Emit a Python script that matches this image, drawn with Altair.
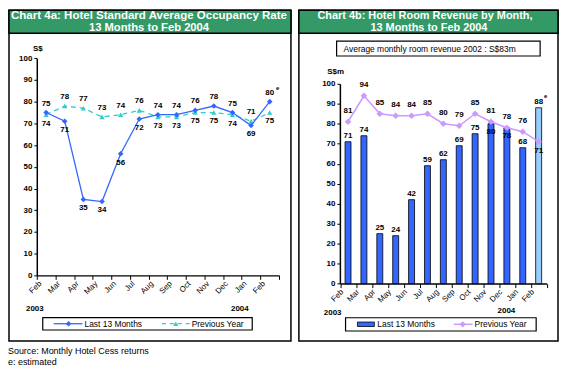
import altair as alt
import pandas as pd

# ---------------- data ----------------
month_keys = ["Feb 2003", "Mar 2003", "Apr 2003", "May 2003", "Jun 2003", "Jul 2003",
              "Aug 2003", "Sep 2003", "Oct 2003", "Nov 2003", "Dec 2003", "Jan 2004", "Feb 2004"]
occ_last13 = [75, 71, 35, 34, 56, 72, 74, 74, 76, 78, 75, 69, 80]
occ_prev = [74, 78, 77, 73, 74, 76, 73, 73, 75, 75, 74, 71, 75]
rev_last13 = [71, 74, 25, 24, 42, 59, 62, 69, 75, 80, 78, 68, 88]
rev_prev = [81, 94, 85, 84, 84, 85, 80, 79, 85, 81, 78, 76, 71]
estimated = [False] * 12 + [True]
y_ticks = [0, 10, 20, 30, 40, 50, 60, 70, 80, 90, 100]
series_names = ["Last 13 Months", "Previous Year"]

title_4a = ["Chart 4a: Hotel Standard Average Occupancy Rate", "13 Months to Feb 2004"]
title_4b = ["Chart 4b: Hotel Room Revenue by Month,", "13 Months to Feb 2004"]
subtitle_4b = "Average monthly room revenue 2002 : S$83m"
notes = ["Source: Monthly Hotel Cess returns", "e: estimated"]

# ---------------- styles ----------------
BLUE = "#3366ff"
CYAN = "#33cccc"
LAV = "#cc99ff"
PALE = "#99ccff"
GREEN = "#339966"
FONT = "Liberation Sans"

rows = []
for i, m in enumerate(month_keys):
    rows.append({"month": m, "series": series_names[0], "value": occ_last13[i],
                 "other": occ_prev[i], "est": estimated[i]})
    rows.append({"month": m, "series": series_names[1], "value": occ_prev[i],
                 "other": occ_last13[i], "est": False})
df_left = pd.DataFrame(rows)

df_right = pd.DataFrame({"month": month_keys, "last13": rev_last13, "prev": rev_prev,
                         "est": estimated})
one = pd.DataFrame({"k": [0]})


def axis_y(offset):
    return alt.Axis(orient="left", offset=offset, values=y_ticks, tickSize=3, labelPadding=2,
                    labelFontSize=8, labelFontWeight="bold", labelFont=FONT, labelColor="black",
                    grid=False, domainColor="black", domainWidth=1.5, tickColor="black",
                    title=None)


def axis_x(offset):
    return alt.Axis(orient="bottom", offset=offset, tickBand="extent", labelAngle=-45,
                    labelAlign="right", labelBaseline="middle", labelOffset=-6, labelPadding=3,
                    tickSize=4, labelExpr="slice(datum.label, 0, 3)", labelFontSize=8,
                    labelFont=FONT, labelColor="black", grid=False, domainColor="black",
                    domainWidth=1.5, tickColor="black", title=None, labelOverlap=False)


# ---------------- left panel ----------------
scale_xL = alt.Scale(type="band", domain=month_keys, range=[29, 273], paddingInner=0, paddingOuter=0)
scale_yL = alt.Scale(domain=[0, 100], range=[268, 49.3], nice=False)
xL = alt.X("month:N", scale=scale_xL, axis=axis_x(-96), bandPosition=0.5)
yL = alt.Y("value:Q", scale=scale_yL, axis=axis_y(-29))

baseL = alt.Chart(df_left).encode(x=xL, y=yL)
is_last = "datum.series == 'Last 13 Months'"
is_prev = "datum.series == 'Previous Year'"
left = alt.layer(
    baseL.transform_filter(is_prev).mark_line(color=CYAN, strokeWidth=1.3, strokeDash=[5, 4]),
    baseL.transform_filter(is_prev).mark_point(shape="triangle-up", filled=True, size=28,
                                               color=CYAN, opacity=1),
    baseL.transform_filter(is_last).mark_line(color=BLUE, strokeWidth=1.3),
    baseL.transform_filter(is_last).mark_point(shape="diamond", filled=True, size=32,
                                               color=BLUE, opacity=1),
    baseL.transform_filter("datum.value > datum.other").mark_text(
        dy=-9, fontSize=8, fontWeight="bold", font=FONT, color="black").encode(text="value:Q"),
    baseL.transform_filter("datum.value < datum.other").mark_text(
        dy=9, fontSize=8, fontWeight="bold", font=FONT, color="black").encode(text="value:Q"),
    baseL.transform_filter("datum.est").mark_text(
        text="e", dx=8, dy=-14, fontSize=6, fontWeight="bold", font=FONT, color="black"),
)

# ---------------- right panel ----------------
scale_xR = alt.Scale(type="band", domain=month_keys, range=[334.5, 542.5], paddingInner=0, paddingOuter=0)
scale_yR = alt.Scale(domain=[0, 100], range=[276.3, 75], nice=False)
xR = alt.X("month:N", scale=scale_xR, axis=axis_x(-87.7))
xRc = alt.X("month:N", scale=scale_xR, axis=axis_x(-87.7), bandPosition=0.5)
yR_bar = alt.Y("last13:Q", scale=scale_yR, axis=axis_y(-334.3))
yR_line = alt.Y("prev:Q", scale=scale_yR, axis=axis_y(-334.3))

baseR = alt.Chart(df_right)
right = alt.layer(
    baseR.mark_bar(size=6, stroke="black", strokeWidth=0.8).encode(
        x=xR, y=yR_bar,
        fill=alt.condition("datum.est", alt.value(PALE), alt.value(BLUE))),
    baseR.transform_filter("abs(datum.prev - datum.last13) >= 4").mark_text(
        dy=-6, fontSize=8, fontWeight="bold", font=FONT, color="black").encode(
        x=xRc, y=yR_bar, text="last13:Q"),
    baseR.transform_filter("abs(datum.prev - datum.last13) < 4").mark_text(
        dy=8, fontSize=8, fontWeight="bold", font=FONT, color="black").encode(
        x=xRc, y=yR_bar, text="last13:Q"),
    baseR.transform_filter("datum.est").mark_text(
        text="e", dx=7, dy=-12, fontSize=6, fontWeight="bold", font=FONT, color="black").encode(
        x=xRc, y=yR_bar),
    baseR.mark_line(color=LAV, strokeWidth=1.5).encode(x=xRc, y=yR_line),
    baseR.mark_point(shape="diamond", filled=True, size=45, color=LAV, opacity=1).encode(
        x=xRc, y=yR_line),
    baseR.transform_filter("datum.prev >= datum.last13").mark_text(
        dy=-11, fontSize=8, fontWeight="bold", font=FONT, color="black").encode(
        x=xRc, y=yR_line, text="prev:Q"),
    baseR.transform_filter("datum.prev < datum.last13").mark_text(
        dy=9, fontSize=8, fontWeight="bold", font=FONT, color="black").encode(
        x=xRc, y=yR_line, text="prev:Q"),
)


# ---------------- decorations ----------------
def box(x, x2, y, y2, fill=None, sw=1.5):
    if fill is None:
        mk = alt.Chart(one).mark_rect(fillOpacity=0, stroke="black", strokeWidth=sw)
    else:
        mk = alt.Chart(one).mark_rect(fill=fill, stroke="black", strokeWidth=sw)
    return mk.encode(x=alt.value(x), x2=alt.value(x2), y=alt.value(y), y2=alt.value(y2))


def txt(t, x, y, size=8, weight="normal", align="center", color="black"):
    return alt.Chart(one).mark_text(text=t, fontSize=size, fontWeight=weight, align=align,
                                    baseline="middle", font=FONT, color=color).encode(
        x=alt.value(x), y=alt.value(y))


def hline(x, x2, y, color, dash=None, sw=1.3):
    if dash:
        mk = alt.Chart(one).mark_rule(color=color, strokeWidth=sw, strokeDash=dash)
    else:
        mk = alt.Chart(one).mark_rule(color=color, strokeWidth=sw)
    return mk.encode(x=alt.value(x), x2=alt.value(x2), y=alt.value(y))


def sym(x, y, shape, color, size):
    return alt.Chart(one).mark_point(shape=shape, filled=True, size=size, color=color,
                                     opacity=1).encode(x=alt.value(x), y=alt.value(y))


deco = [
    # left panel frame & header
    box(1, 285, 1, 334),
    box(1, 285, 1, 24, fill=GREEN),
    txt(title_4a[0], 142, 7, size=11.6, weight="bold", color="white"),
    txt(title_4a[1], 142, 18.5, size=11.3, weight="bold", color="white"),
    txt("S$", 30, 40, weight="bold"),
    txt("2003", 27, 302, weight="bold"),
    txt("2004", 233.5, 302, weight="bold"),
    box(35, 246, 310.5, 323, sw=1.2),
    hline(46, 75, 316.7, BLUE),
    sym(61, 316.7, "diamond", BLUE, 30),
    txt(series_names[0], 77, 316.7, size=8.5, align="left"),
    hline(155, 183, 316.7, CYAN, dash=[4, 4]),
    sym(169, 316.7, "triangle-up", CYAN, 28),
    txt(series_names[1], 185, 316.7, size=8.5, align="left"),
    # right panel frame & header
    box(293, 554, 1, 334),
    box(293, 554, 1, 24, fill=GREEN),
    txt(title_4b[0], 420, 7, size=11, weight="bold", color="white"),
    txt(title_4b[1], 424, 18.5, size=11, weight="bold", color="white"),
    box(331, 536, 32, 47, sw=1.2),
    txt(subtitle_4b, 338, 39.5, size=8.5, align="left"),
    txt("S$m", 330, 63, weight="bold"),
    txt("2003", 327, 306, weight="bold"),
    txt("2004", 502, 304, weight="bold"),
    box(340, 532, 310.7, 324, sw=1.2),
    alt.Chart(one).mark_rect(fill=BLUE, stroke="black", strokeWidth=0.8).encode(
        x=alt.value(352), x2=alt.value(369), y=alt.value(315), y2=alt.value(319.5)),
    txt(series_names[0], 372, 317.3, size=8.5, align="left"),
    hline(449, 468, 317.3, LAV, sw=1.5),
    sym(458, 317.3, "diamond", LAV, 40),
    txt(series_names[1], 470, 317.3, size=8.5, align="left"),
    # footnotes
    txt(notes[0], 0, 343.7, size=9, align="left"),
    txt(notes[1], 0, 355, size=9, align="left"),
]

chart = alt.layer(left, right, *deco).resolve_scale(
    x="independent", y="independent"
).properties(
    width=555, height=364, padding=0,
    autosize=alt.AutoSizeParams(type="none"),
).configure_view(stroke=None)

chart.save("out.html", embed_options={"renderer": "svg", "actions": False})
